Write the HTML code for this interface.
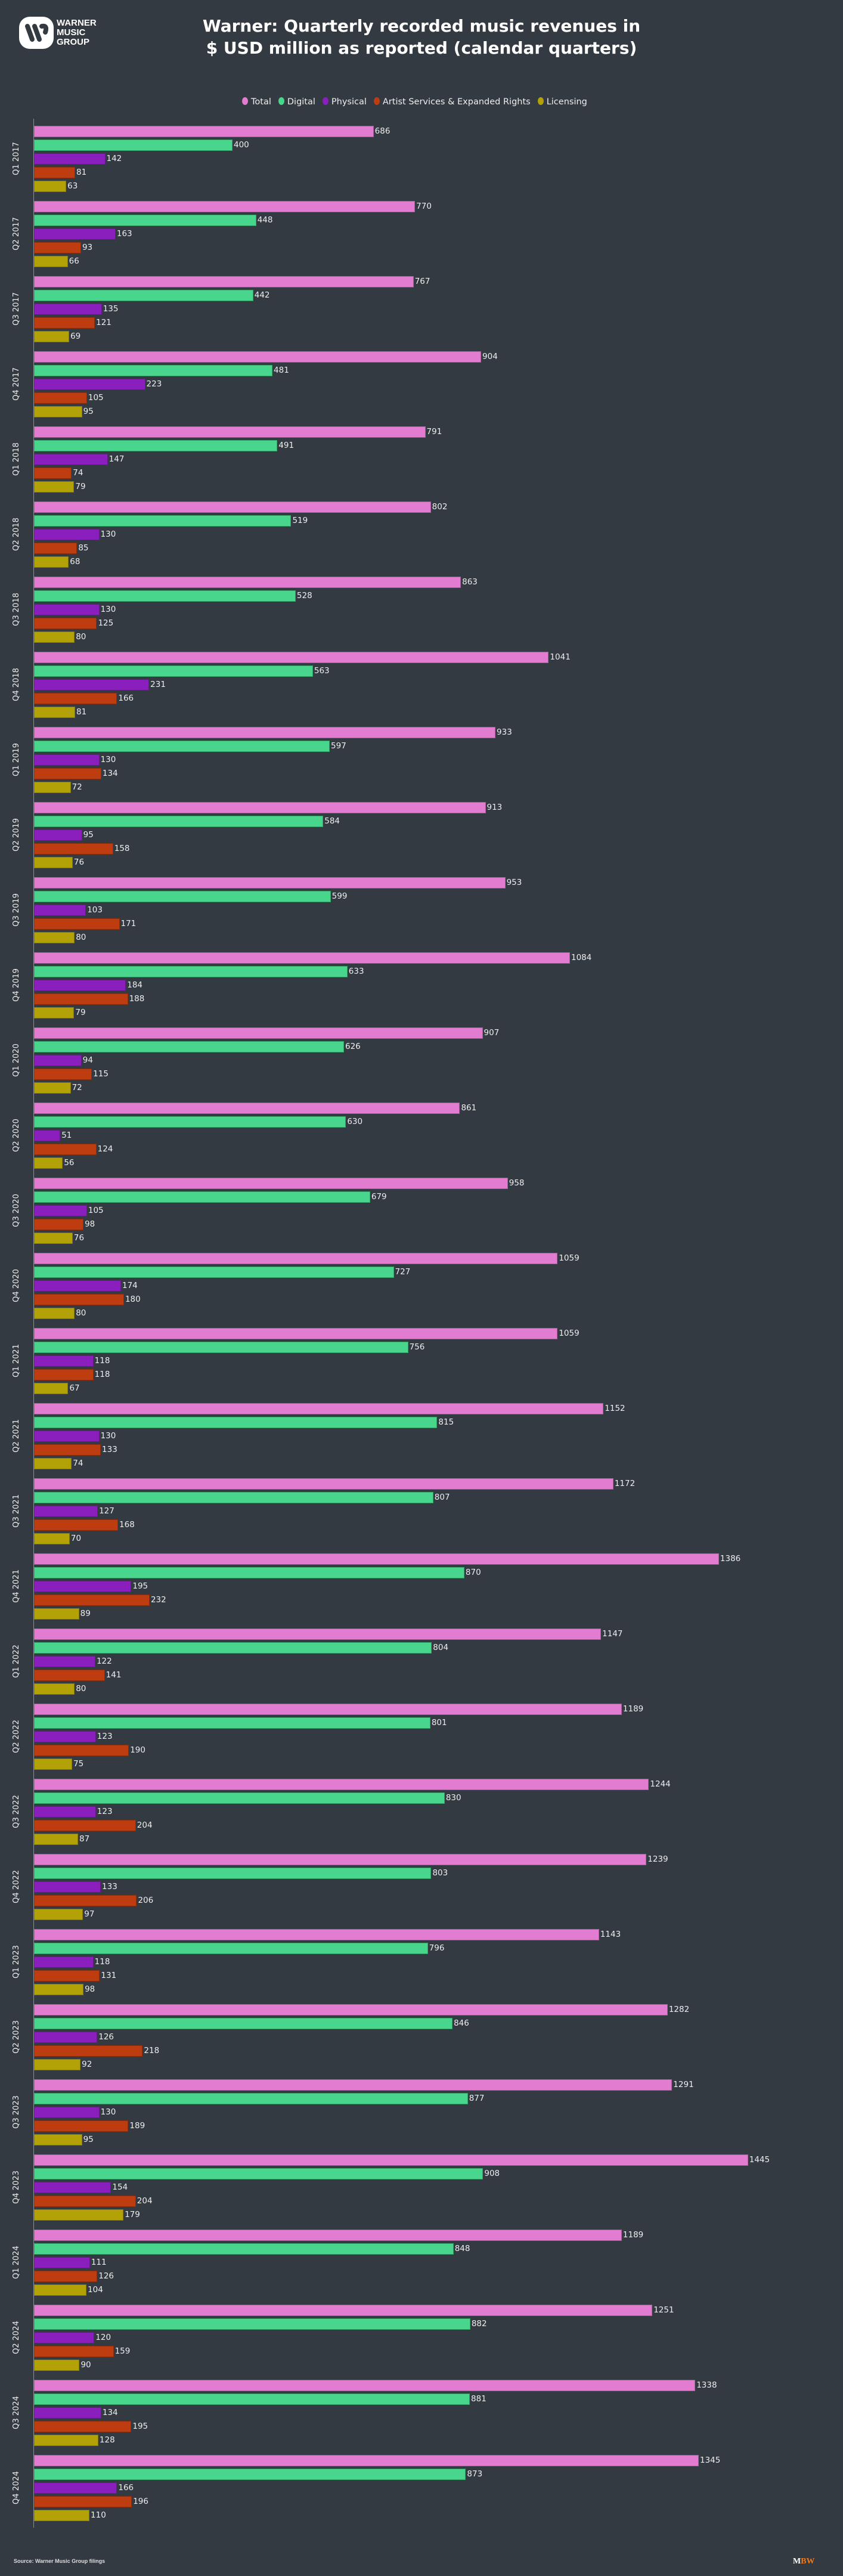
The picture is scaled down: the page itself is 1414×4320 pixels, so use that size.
<!DOCTYPE html>
<html><head><meta charset="utf-8">
<style>
html,body{margin:0;padding:0}
body{width:1414px;height:4320px;background:#343a42;position:relative;overflow:hidden;font-family:"DejaVu Sans","Liberation Sans",sans-serif;color:#f0f0f0}
.t{position:absolute;left:0;width:1414px;top:25px;text-align:center;font-weight:bold;font-size:28px;line-height:37px;color:#fff}
.lg{position:absolute;top:163px;left:406px;font-size:14.5px;color:#eee;white-space:nowrap}
.lg span{display:inline-block;margin-right:12px}
.lg i{display:inline-block;width:10px;height:13px;border-radius:50%;vertical-align:-1px;margin-right:5px}
.ax{position:absolute;left:56px;top:199px;width:1px;height:4040px;background:#8a8f96}
.g{position:absolute;left:57px;width:1300px;height:110px}
.r{position:absolute;left:0;height:19px;display:flex;align-items:center;font-size:13.5px;color:#eee;white-space:nowrap}
.r b{display:block;height:17px;border:1px solid rgba(0,0,0,.25);box-sizing:content-box;margin-right:2px}
.r:nth-child(1){top:0}.r:nth-child(2){top:23px}.r:nth-child(3){top:46px}.r:nth-child(4){top:69px}.r:nth-child(5){top:92px}
.r:nth-child(1) b{background:#e27cd0}.r:nth-child(2) b{background:#48d68c}.r:nth-child(3) b{background:#8b1fbe}.r:nth-child(4) b{background:#bd3d10}.r:nth-child(5) b{background:#b3a207}
.yl{position:absolute;left:-57px;top:55px;width:90px;text-align:center;font-size:13px;color:#eee;transform:translate(-3px,-8px) rotate(-90deg);transform-origin:45px 8px;white-space:nowrap;margin-left:-14px}
</style></head><body>
<div style="position:absolute;left:32px;top:28px;width:58px;height:54px;background:#fff;border-radius:18px"></div>
<svg style="position:absolute;left:32px;top:28px" width="58" height="54"><g stroke="#343a42" stroke-width="8" stroke-linecap="round" fill="none"><line x1="14" y1="16" x2="22" y2="38"/><line x1="26" y1="16" x2="34" y2="38"/><path d="M38 16 Q48 14 44 26"/></g></svg>
<div style="position:absolute;left:95px;top:31px;font-weight:bold;font-size:15px;line-height:16px;color:#fff;font-family:'Liberation Sans',sans-serif">WARNER<br>MUSIC<br>GROUP</div>
<div class="t">Warner: Quarterly recorded music revenues in<br>$ USD million as reported (calendar quarters)</div>
<div class="lg"><span><i style="background:#e27cd0"></i>Total</span><span><i style="background:#48d68c"></i>Digital</span><span><i style="background:#8b1fbe"></i>Physical</span><span><i style="background:#bd3d10"></i>Artist Services &amp; Expanded Rights</span><span><i style="background:#b3a207"></i>Licensing</span></div>
<div class="ax"></div>

<div class="g" style="top:210.7px"><div class="r"><b style="width:calc(686px*0.8275)"></b>686</div><div class="r"><b style="width:calc(400px*0.8275)"></b>400</div><div class="r"><b style="width:calc(142px*0.8275)"></b>142</div><div class="r"><b style="width:calc(81px*0.8275)"></b>81</div><div class="r"><b style="width:calc(63px*0.8275)"></b>63</div><div class="yl">Q1 2017</div></div>
<div class="g" style="top:336.7px"><div class="r"><b style="width:calc(770px*0.8275)"></b>770</div><div class="r"><b style="width:calc(448px*0.8275)"></b>448</div><div class="r"><b style="width:calc(163px*0.8275)"></b>163</div><div class="r"><b style="width:calc(93px*0.8275)"></b>93</div><div class="r"><b style="width:calc(66px*0.8275)"></b>66</div><div class="yl">Q2 2017</div></div>
<div class="g" style="top:462.7px"><div class="r"><b style="width:calc(767px*0.8275)"></b>767</div><div class="r"><b style="width:calc(442px*0.8275)"></b>442</div><div class="r"><b style="width:calc(135px*0.8275)"></b>135</div><div class="r"><b style="width:calc(121px*0.8275)"></b>121</div><div class="r"><b style="width:calc(69px*0.8275)"></b>69</div><div class="yl">Q3 2017</div></div>
<div class="g" style="top:588.7px"><div class="r"><b style="width:calc(904px*0.8275)"></b>904</div><div class="r"><b style="width:calc(481px*0.8275)"></b>481</div><div class="r"><b style="width:calc(223px*0.8275)"></b>223</div><div class="r"><b style="width:calc(105px*0.8275)"></b>105</div><div class="r"><b style="width:calc(95px*0.8275)"></b>95</div><div class="yl">Q4 2017</div></div>
<div class="g" style="top:714.7px"><div class="r"><b style="width:calc(791px*0.8275)"></b>791</div><div class="r"><b style="width:calc(491px*0.8275)"></b>491</div><div class="r"><b style="width:calc(147px*0.8275)"></b>147</div><div class="r"><b style="width:calc(74px*0.8275)"></b>74</div><div class="r"><b style="width:calc(79px*0.8275)"></b>79</div><div class="yl">Q1 2018</div></div>
<div class="g" style="top:840.7px"><div class="r"><b style="width:calc(802px*0.8275)"></b>802</div><div class="r"><b style="width:calc(519px*0.8275)"></b>519</div><div class="r"><b style="width:calc(130px*0.8275)"></b>130</div><div class="r"><b style="width:calc(85px*0.8275)"></b>85</div><div class="r"><b style="width:calc(68px*0.8275)"></b>68</div><div class="yl">Q2 2018</div></div>
<div class="g" style="top:966.7px"><div class="r"><b style="width:calc(863px*0.8275)"></b>863</div><div class="r"><b style="width:calc(528px*0.8275)"></b>528</div><div class="r"><b style="width:calc(130px*0.8275)"></b>130</div><div class="r"><b style="width:calc(125px*0.8275)"></b>125</div><div class="r"><b style="width:calc(80px*0.8275)"></b>80</div><div class="yl">Q3 2018</div></div>
<div class="g" style="top:1092.7px"><div class="r"><b style="width:calc(1041px*0.8275)"></b>1041</div><div class="r"><b style="width:calc(563px*0.8275)"></b>563</div><div class="r"><b style="width:calc(231px*0.8275)"></b>231</div><div class="r"><b style="width:calc(166px*0.8275)"></b>166</div><div class="r"><b style="width:calc(81px*0.8275)"></b>81</div><div class="yl">Q4 2018</div></div>
<div class="g" style="top:1218.7px"><div class="r"><b style="width:calc(933px*0.8275)"></b>933</div><div class="r"><b style="width:calc(597px*0.8275)"></b>597</div><div class="r"><b style="width:calc(130px*0.8275)"></b>130</div><div class="r"><b style="width:calc(134px*0.8275)"></b>134</div><div class="r"><b style="width:calc(72px*0.8275)"></b>72</div><div class="yl">Q1 2019</div></div>
<div class="g" style="top:1344.7px"><div class="r"><b style="width:calc(913px*0.8275)"></b>913</div><div class="r"><b style="width:calc(584px*0.8275)"></b>584</div><div class="r"><b style="width:calc(95px*0.8275)"></b>95</div><div class="r"><b style="width:calc(158px*0.8275)"></b>158</div><div class="r"><b style="width:calc(76px*0.8275)"></b>76</div><div class="yl">Q2 2019</div></div>
<div class="g" style="top:1470.7px"><div class="r"><b style="width:calc(953px*0.8275)"></b>953</div><div class="r"><b style="width:calc(599px*0.8275)"></b>599</div><div class="r"><b style="width:calc(103px*0.8275)"></b>103</div><div class="r"><b style="width:calc(171px*0.8275)"></b>171</div><div class="r"><b style="width:calc(80px*0.8275)"></b>80</div><div class="yl">Q3 2019</div></div>
<div class="g" style="top:1596.7px"><div class="r"><b style="width:calc(1084px*0.8275)"></b>1084</div><div class="r"><b style="width:calc(633px*0.8275)"></b>633</div><div class="r"><b style="width:calc(184px*0.8275)"></b>184</div><div class="r"><b style="width:calc(188px*0.8275)"></b>188</div><div class="r"><b style="width:calc(79px*0.8275)"></b>79</div><div class="yl">Q4 2019</div></div>
<div class="g" style="top:1722.7px"><div class="r"><b style="width:calc(907px*0.8275)"></b>907</div><div class="r"><b style="width:calc(626px*0.8275)"></b>626</div><div class="r"><b style="width:calc(94px*0.8275)"></b>94</div><div class="r"><b style="width:calc(115px*0.8275)"></b>115</div><div class="r"><b style="width:calc(72px*0.8275)"></b>72</div><div class="yl">Q1 2020</div></div>
<div class="g" style="top:1848.7px"><div class="r"><b style="width:calc(861px*0.8275)"></b>861</div><div class="r"><b style="width:calc(630px*0.8275)"></b>630</div><div class="r"><b style="width:calc(51px*0.8275)"></b>51</div><div class="r"><b style="width:calc(124px*0.8275)"></b>124</div><div class="r"><b style="width:calc(56px*0.8275)"></b>56</div><div class="yl">Q2 2020</div></div>
<div class="g" style="top:1974.7px"><div class="r"><b style="width:calc(958px*0.8275)"></b>958</div><div class="r"><b style="width:calc(679px*0.8275)"></b>679</div><div class="r"><b style="width:calc(105px*0.8275)"></b>105</div><div class="r"><b style="width:calc(98px*0.8275)"></b>98</div><div class="r"><b style="width:calc(76px*0.8275)"></b>76</div><div class="yl">Q3 2020</div></div>
<div class="g" style="top:2100.7px"><div class="r"><b style="width:calc(1059px*0.8275)"></b>1059</div><div class="r"><b style="width:calc(727px*0.8275)"></b>727</div><div class="r"><b style="width:calc(174px*0.8275)"></b>174</div><div class="r"><b style="width:calc(180px*0.8275)"></b>180</div><div class="r"><b style="width:calc(80px*0.8275)"></b>80</div><div class="yl">Q4 2020</div></div>
<div class="g" style="top:2226.7px"><div class="r"><b style="width:calc(1059px*0.8275)"></b>1059</div><div class="r"><b style="width:calc(756px*0.8275)"></b>756</div><div class="r"><b style="width:calc(118px*0.8275)"></b>118</div><div class="r"><b style="width:calc(118px*0.8275)"></b>118</div><div class="r"><b style="width:calc(67px*0.8275)"></b>67</div><div class="yl">Q1 2021</div></div>
<div class="g" style="top:2352.7px"><div class="r"><b style="width:calc(1152px*0.8275)"></b>1152</div><div class="r"><b style="width:calc(815px*0.8275)"></b>815</div><div class="r"><b style="width:calc(130px*0.8275)"></b>130</div><div class="r"><b style="width:calc(133px*0.8275)"></b>133</div><div class="r"><b style="width:calc(74px*0.8275)"></b>74</div><div class="yl">Q2 2021</div></div>
<div class="g" style="top:2478.7px"><div class="r"><b style="width:calc(1172px*0.8275)"></b>1172</div><div class="r"><b style="width:calc(807px*0.8275)"></b>807</div><div class="r"><b style="width:calc(127px*0.8275)"></b>127</div><div class="r"><b style="width:calc(168px*0.8275)"></b>168</div><div class="r"><b style="width:calc(70px*0.8275)"></b>70</div><div class="yl">Q3 2021</div></div>
<div class="g" style="top:2604.7px"><div class="r"><b style="width:calc(1386px*0.8275)"></b>1386</div><div class="r"><b style="width:calc(870px*0.8275)"></b>870</div><div class="r"><b style="width:calc(195px*0.8275)"></b>195</div><div class="r"><b style="width:calc(232px*0.8275)"></b>232</div><div class="r"><b style="width:calc(89px*0.8275)"></b>89</div><div class="yl">Q4 2021</div></div>
<div class="g" style="top:2730.7px"><div class="r"><b style="width:calc(1147px*0.8275)"></b>1147</div><div class="r"><b style="width:calc(804px*0.8275)"></b>804</div><div class="r"><b style="width:calc(122px*0.8275)"></b>122</div><div class="r"><b style="width:calc(141px*0.8275)"></b>141</div><div class="r"><b style="width:calc(80px*0.8275)"></b>80</div><div class="yl">Q1 2022</div></div>
<div class="g" style="top:2856.7px"><div class="r"><b style="width:calc(1189px*0.8275)"></b>1189</div><div class="r"><b style="width:calc(801px*0.8275)"></b>801</div><div class="r"><b style="width:calc(123px*0.8275)"></b>123</div><div class="r"><b style="width:calc(190px*0.8275)"></b>190</div><div class="r"><b style="width:calc(75px*0.8275)"></b>75</div><div class="yl">Q2 2022</div></div>
<div class="g" style="top:2982.7px"><div class="r"><b style="width:calc(1244px*0.8275)"></b>1244</div><div class="r"><b style="width:calc(830px*0.8275)"></b>830</div><div class="r"><b style="width:calc(123px*0.8275)"></b>123</div><div class="r"><b style="width:calc(204px*0.8275)"></b>204</div><div class="r"><b style="width:calc(87px*0.8275)"></b>87</div><div class="yl">Q3 2022</div></div>
<div class="g" style="top:3108.7px"><div class="r"><b style="width:calc(1239px*0.8275)"></b>1239</div><div class="r"><b style="width:calc(803px*0.8275)"></b>803</div><div class="r"><b style="width:calc(133px*0.8275)"></b>133</div><div class="r"><b style="width:calc(206px*0.8275)"></b>206</div><div class="r"><b style="width:calc(97px*0.8275)"></b>97</div><div class="yl">Q4 2022</div></div>
<div class="g" style="top:3234.7px"><div class="r"><b style="width:calc(1143px*0.8275)"></b>1143</div><div class="r"><b style="width:calc(796px*0.8275)"></b>796</div><div class="r"><b style="width:calc(118px*0.8275)"></b>118</div><div class="r"><b style="width:calc(131px*0.8275)"></b>131</div><div class="r"><b style="width:calc(98px*0.8275)"></b>98</div><div class="yl">Q1 2023</div></div>
<div class="g" style="top:3360.7px"><div class="r"><b style="width:calc(1282px*0.8275)"></b>1282</div><div class="r"><b style="width:calc(846px*0.8275)"></b>846</div><div class="r"><b style="width:calc(126px*0.8275)"></b>126</div><div class="r"><b style="width:calc(218px*0.8275)"></b>218</div><div class="r"><b style="width:calc(92px*0.8275)"></b>92</div><div class="yl">Q2 2023</div></div>
<div class="g" style="top:3486.7px"><div class="r"><b style="width:calc(1291px*0.8275)"></b>1291</div><div class="r"><b style="width:calc(877px*0.8275)"></b>877</div><div class="r"><b style="width:calc(130px*0.8275)"></b>130</div><div class="r"><b style="width:calc(189px*0.8275)"></b>189</div><div class="r"><b style="width:calc(95px*0.8275)"></b>95</div><div class="yl">Q3 2023</div></div>
<div class="g" style="top:3612.7px"><div class="r"><b style="width:calc(1445px*0.8275)"></b>1445</div><div class="r"><b style="width:calc(908px*0.8275)"></b>908</div><div class="r"><b style="width:calc(154px*0.8275)"></b>154</div><div class="r"><b style="width:calc(204px*0.8275)"></b>204</div><div class="r"><b style="width:calc(179px*0.8275)"></b>179</div><div class="yl">Q4 2023</div></div>
<div class="g" style="top:3738.7px"><div class="r"><b style="width:calc(1189px*0.8275)"></b>1189</div><div class="r"><b style="width:calc(848px*0.8275)"></b>848</div><div class="r"><b style="width:calc(111px*0.8275)"></b>111</div><div class="r"><b style="width:calc(126px*0.8275)"></b>126</div><div class="r"><b style="width:calc(104px*0.8275)"></b>104</div><div class="yl">Q1 2024</div></div>
<div class="g" style="top:3864.7px"><div class="r"><b style="width:calc(1251px*0.8275)"></b>1251</div><div class="r"><b style="width:calc(882px*0.8275)"></b>882</div><div class="r"><b style="width:calc(120px*0.8275)"></b>120</div><div class="r"><b style="width:calc(159px*0.8275)"></b>159</div><div class="r"><b style="width:calc(90px*0.8275)"></b>90</div><div class="yl">Q2 2024</div></div>
<div class="g" style="top:3990.7px"><div class="r"><b style="width:calc(1338px*0.8275)"></b>1338</div><div class="r"><b style="width:calc(881px*0.8275)"></b>881</div><div class="r"><b style="width:calc(134px*0.8275)"></b>134</div><div class="r"><b style="width:calc(195px*0.8275)"></b>195</div><div class="r"><b style="width:calc(128px*0.8275)"></b>128</div><div class="yl">Q3 2024</div></div>
<div class="g" style="top:4116.7px"><div class="r"><b style="width:calc(1345px*0.8275)"></b>1345</div><div class="r"><b style="width:calc(873px*0.8275)"></b>873</div><div class="r"><b style="width:calc(166px*0.8275)"></b>166</div><div class="r"><b style="width:calc(196px*0.8275)"></b>196</div><div class="r"><b style="width:calc(110px*0.8275)"></b>110</div><div class="yl">Q4 2024</div></div>

<div style="position:absolute;left:23px;top:4290px;font-size:9px;font-weight:bold;color:#ddd;font-family:'Liberation Sans',sans-serif">Source: Warner Music Group filings</div>
<div style="position:absolute;left:1330px;top:4288px;font-size:14px;font-weight:bold;font-family:'Liberation Serif',serif"><span style="color:#fff">M</span><span style="color:#f07a1a">BW</span></div>
</body></html>
